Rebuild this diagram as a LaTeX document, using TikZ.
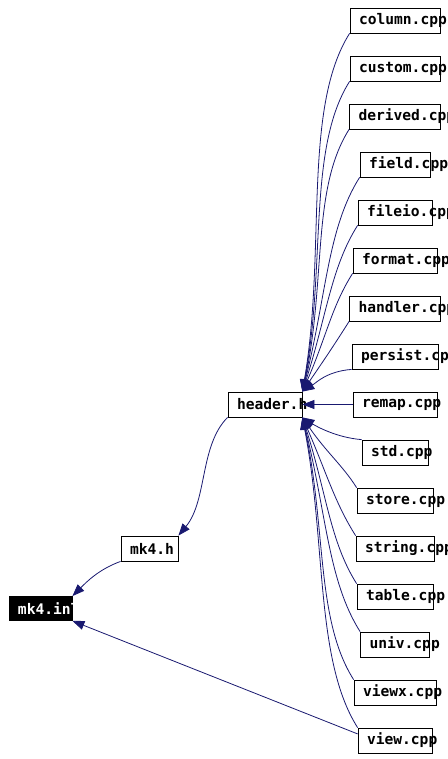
\documentclass[tikz,border=0pt]{standalone}
\usepackage{fontspec}
\newfontfamily\dxfont{DejaVu Sans Mono}
\usetikzlibrary{arrows.meta}
\definecolor{edgeblue}{RGB}{25,25,112}
% box of fixed width, file name may run past its right side
\newcommand{\fname}[2]{\makebox[#1pt][l]{\hspace{9pt}#2}}

\begin{document}
\begin{tikzpicture}[x=1pt, y=-1pt,
	file/.style={draw=black, line width=0.8pt, inner sep=0pt, minimum height=25pt,
		font=\dxfont\bfseries\fontsize{14.6}{16}\selectfont},
	edge/.style={edgeblue, line width=0.8pt, -{Triangle[length=12pt,width=9pt]}}]
	
	\useasboundingbox (0,0) rectangle (447,759);
	\clip (0,0) rectangle (447,759);
	
	\def\xF{395}
	
	% ── right column: the .cpp files ──────────────────────────
	\foreach \n/\w/\y in {column/90/20.5, custom/90/68.5, derived/91/116.5,
		field/70/164.5, fileio/74/212.5, format/84/260.5, handler/91/308.5,
		persist/86/356.5, remap/84/404.5, std/66/452.5, store/76/500.5,
		string/78/548.5, table/76/596.5, univ/69/644.5, viewx/82/692.5,
		view/74/740.5}{
		\node[file] (\n) at (\xF,\y) {\fname{\w}{\n.cpp}};
	}
	
	% ── headers ───────────────────────────────────────────────
	\node[file] (hdr) at (265,404.5) {\fname{74}{header.h}};
	\node[file] (mkh) at (149.5,548.5) {\fname{57}{mk4.h}};
	\node[file, fill=black, text=white, minimum height=24pt] (mkinl) at (40.5,608.5) {\fname{63}{mk4.inl}};
	
	% ── edges into header.h ───────────────────────────────────
	\foreach \n/\a/\b in {column/50/140, custom/45/125, derived/40/110,
		field/34/95, fileio/28/75, format/22/55, handler/15/35}{
		\draw[edge] (\n.south west) .. controls +(-0.95*\a,1.5*\a) and +(24,-\b) .. (hdr.north east);
	}
	\draw[edge] (persist.south west) .. controls +(-25,2) and +(14,-9) .. (hdr.north east);
	\draw[edge] (remap.west) -- (hdr.east);
	\draw[edge] (std.north west) .. controls +(-25,-2) and +(14,9) .. (hdr.south east);
	\foreach \n/\a/\b in {store/15/35, string/22/55, table/28/75,
		univ/34/95, viewx/40/110, view/45/125}{
		\draw[edge] (\n.north west) .. controls +(-0.95*\a,-1.5*\a) and +(24,\b) .. (hdr.south east);
	}
	
	% ── down to mk4.inl ───────────────────────────────────────
	\draw[edge] (hdr.south west) .. controls +(-28,28) and +(29,-35) .. (mkh.north east);
	\draw[edge] (mkh.south west) .. controls +(-22,8) and +(14,-14) .. (mkinl.north east);
	\draw[edge] (view.170) -- (mkinl.south east);
	
\end{tikzpicture}
\end{document}
